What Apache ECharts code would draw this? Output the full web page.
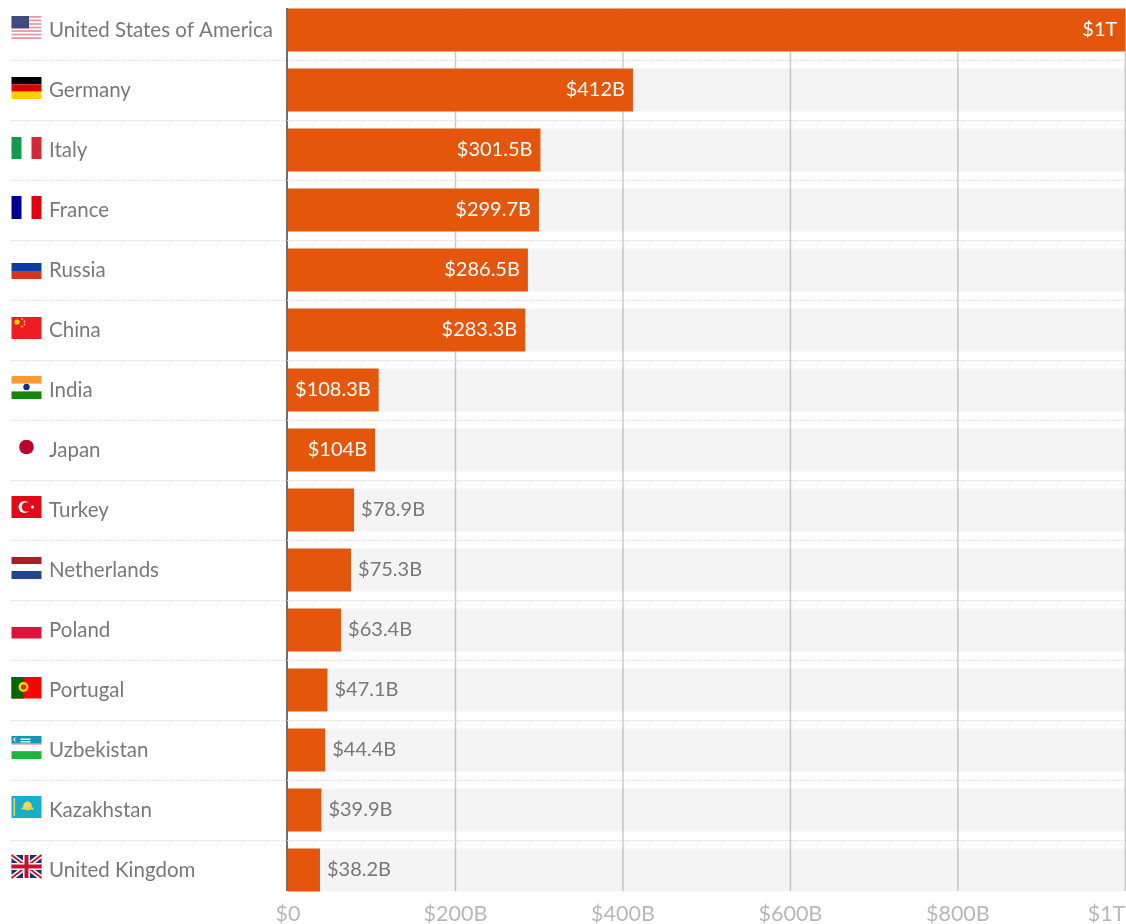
<!DOCTYPE html>
<html>
<head>
<meta charset="utf-8">
<style>html,body{margin:0;padding:0;background:#fff}#chart{width:1126px;height:924px}</style>
<script src="https://cdn.jsdelivr.net/npm/echarts@6/dist/echarts.min.js"></script>
</head>
<body>
<div id="chart"></div>
<script>
// Spending per country, in billions of US dollars.
const countries = ['United States of America','Germany','Italy','France','Russia','China','India','Japan','Turkey','Netherlands','Poland','Portugal','Uzbekistan','Kazakhstan','United Kingdom'];
const spending = [1000,412,301.5,299.7,286.5,283.3,108.3,104,78.9,75.3,63.4,47.1,44.4,39.9,38.2];
const axisTicks = [0,200,400,600,800,1000];

const FONT = 'Lato';
const AXIS_MAX = 1000;
const INSIDE_FROM = 100; // bars at least this long carry their label inside
const money = v => v === 0 ? '$0' : v >= 1000 ? '$' + v / 1000 + 'T' : '$' + v + 'B';

// Flag primitives, in pixels from the flag's left edge and the row's centre line.
const rect = (x, y, width, height, fill) => ({type:'rect', shape:{x, y, width, height}, style:{fill}});
const disc = (cx, cy, r, fill) => ({type:'circle', shape:{cx, cy, r}, style:{fill}});
const bar2 = (x1, y1, x2, y2, w, stroke) => ({type:'line', shape:{x1, y1, x2, y2}, style:{stroke, lineWidth:w}});

function usFlag() {
  const parts = [rect(0,-14,30,23,'#fff')];
  for (let s = 0; s < 7; s++) parts.push(rect(0,-14 + s * 3.54,30,1.77,'#e39aa2'));
  parts.push(rect(0,-14,17.5,12.4,'#3f4a80'));
  return parts;
}
function unionJack() {
  const t = -15, b = 8, m = (t + b) / 2;
  return [
    rect(0,t,30,23,'#1d2f74'),
    bar2(0,t,30,b,5,'#fff'), bar2(30,t,0,b,5,'#fff'),
    bar2(0,t,30,b,1.8,'#c8102e'), bar2(30,t,0,b,1.8,'#c8102e'),
    rect(11.5,t,7,23,'#fff'), rect(0,m - 3.5,30,7,'#fff'),
    rect(13,t,4,23,'#c8102e'), rect(0,m - 2,30,4,'#c8102e')
  ];
}
const flagArt = {
  'United States of America': usFlag,
  'Germany': () => [rect(0,-13,30,7.4,'#000'), rect(0,-5.6,30,7.3,'#dd0000'), rect(0,1.7,30,7.3,'#ffce00')],
  'Italy': () => [rect(0,-13,10,22,'#139a4a'), rect(20,-13,10,22,'#ce2b37')],
  'France': () => [rect(0,-14,10,23,'#000091'), rect(20,-14,10,23,'#e1000f')],
  'Russia': () => [rect(0,-7,30,8,'#0a3ca6'), rect(0,1,30,8,'#d2361e')],
  'China': () => [rect(0,-13,30,22,'#ee1c25'), disc(5.5,-8,2.6,'#ffde00'), disc(10.5,-11,.9,'#ffde00'), disc(13,-8.5,.9,'#ffde00'), disc(13,-5.5,.9,'#ffde00'), disc(10.5,-3.5,.9,'#ffde00')],
  'India': () => [rect(0,-14,30,7.6,'#ff9933'), rect(0,1.4,30,7.6,'#138808'), disc(15,-3,3.2,'#1a2a8a')],
  'Japan': () => [disc(15,-3,7.3,'#bc002d')],
  'Turkey': () => [rect(0,-14,30,22,'#e30a17'), disc(13,-3,6,'#fff'), disc(15,-3,4.8,'#e30a17'), disc(21,-3,1.6,'#fff')],
  'Netherlands': () => [rect(0,-13,30,7,'#ae1c28'), rect(0,1,30,8,'#21468b')],
  'Poland': () => [rect(0,-3,30,11.5,'#dc143c')],
  'Portugal': () => [rect(0,-13,30,21.5,'#ff0000'), rect(0,-13,12,21.5,'#006600'), disc(12,-3,5,'#ffd400'), disc(12,-3,2.6,'#c8302a')],
  'Uzbekistan': () => [rect(0,-14,30,7.5,'#1298b5'), rect(0,-6.5,30,1,'#d9707a'), rect(0,1,30,1,'#d9707a'), rect(0,2,30,7,'#1eb53a'), disc(4,-10.5,2,'#fff'), disc(5,-10.5,1.7,'#1298b5'), rect(9,-11.5,10,1.5,'#e6f6f9'), rect(9,-9,10,1.5,'#e6f6f9')],
  'Kazakhstan': () => [rect(0,-14,30,22,'#18aecb'), rect(2,-12,1.6,18,'#e8d44a'), disc(16,-4,4.4,'#f2d84a'), rect(10,-2.5,12,2,'#e8d44a')],
  'United Kingdom': unionJack
};

const chart = echarts.init(document.getElementById('chart'), null, {renderer:'canvas'});

chart.setOption({
  animation: false,
  backgroundColor: '#fff',
  grid: {left: 288, right: 0.7, top: 0, height: 900, containLabel: false, outerBoundsMode: 'none'},
  xAxis: {
    type: 'value', min: 0, max: AXIS_MAX, interval: 200,
    axisLine: {show:false}, axisTick: {show:false}, splitLine: {show:false},
    axisLabel: {
      formatter: money, color: '#b8b8b8', fontFamily: FONT, fontSize: 21.5,
      margin: 3, alignMaxLabel: 'right'
    }
  },
  yAxis: {
    type: 'category', inverse: true, data: countries,
    axisLine: {show:false}, axisTick: {show:false}, splitLine: {show:false},
    axisLabel: {align:'left', margin:239, color:'#787878', fontFamily:FONT, fontSize:20.5, padding:[2,0,0,0]}
  },
  series: [
    // Vertical grid rules running the height of the bars
    {
      type: 'custom', z: 1, silent: true,
      data: axisTicks.filter(t => t > 0).map(t => [t]),
      renderItem(params, api) {
        const x = api.coord([api.value(0), 0])[0];
        const half = api.size([0, 1])[1] / 2;
        const top = api.coord([0, 0])[1] - half + 8.5;
        const bottom = api.coord([0, countries.length - 1])[1] + half - 9;
        return {type:'line', shape:{x1:x, y1:top, x2:x, y2:bottom}, style:{stroke:'#cbcbcb', lineWidth:1.5}};
      }
    },
    // Orange bars over pale full-width tracks
    {
      type: 'bar', z: 2, barWidth: 43, silent: true,
      showBackground: true,
      backgroundStyle: {color: 'rgba(0,0,0,0.045)'},
      itemStyle: {color: '#e5560d'},
      data: spending.map(v => ({
        value: v,
        label: v >= INSIDE_FROM
          ? {show:true, position:'insideRight', distance:8, color:'#fff'}
          : {show:true, position:'right', distance:7, color:'#787878'}
      })),
      label: {formatter: p => money(p.value), fontFamily: FONT, fontSize: 20, padding:[2,0,0,0]}
    },
    // Row separators, flags and the zero axis line
    {
      type: 'custom', z: 3, silent: true,
      data: countries.map((name, i) => [0, i]),
      renderItem(params, api) {
        const i = api.value(1);
        const y = api.coord([0, i])[1];
        const band = api.size([0, 1])[1];
        const flag = flagArt[countries[i]]();
        const children = [{type:'group', x:11.5, y, children:flag}];
        if (i < countries.length - 1) {
          children.push({
            type:'line',
            shape:{x1:11, y1:y + band / 2 + .5, x2:1125, y2:y + band / 2 + .5},
            style:{stroke:'#d8d8d8', lineWidth:1, lineDash:[1.5,1.5]}
          });
        }
        if (i === 0) {
          const x0 = api.coord([0, 0])[0] - 1;
          children.push({
            type:'line',
            shape:{x1:x0, y1:y - band / 2 + 8, x2:x0, y2:y - band / 2 + 8 + 883},
            style:{stroke:'#707070', lineWidth:2}
          });
        }
        return {type:'group', children};
      }
    }
  ]
});
</script>
</body>
</html>
